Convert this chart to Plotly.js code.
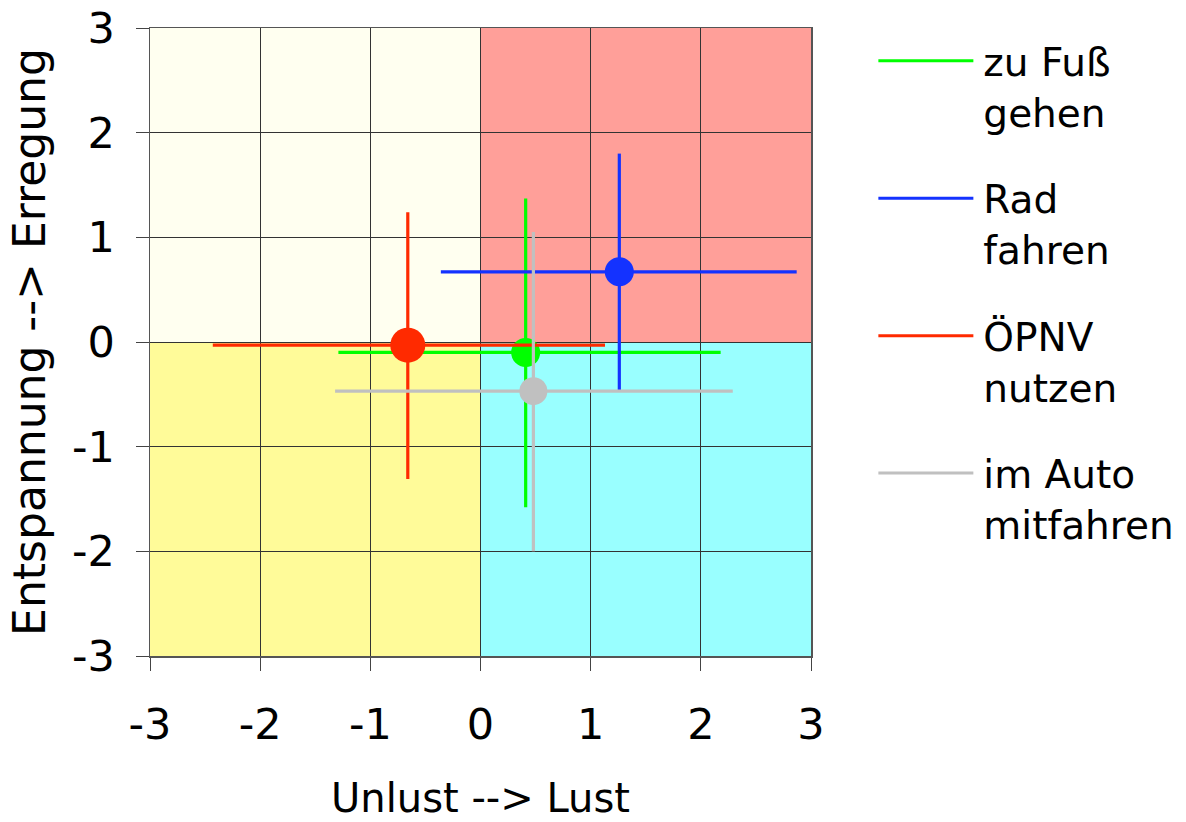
<!DOCTYPE html>
<html>
<head>
<meta charset="utf-8">
<script src="https://cdn.plot.ly/plotly-3.0.1.min.js"></script>
<style>html,body{margin:0;padding:0;background:#fff;}#chart{width:1186px;height:822px;}</style>
</head>
<body>
<div id="chart"></div>
<script>
// Data
var categories = ['zu Fuß<br>gehen', 'Rad<br>fahren', 'ÖPNV<br>nutzen', 'im Auto<br>mitfahren'];
var colors = ['#00FF00', '#1432FF', '#FF2A00', '#C0C0C0'];
var xMean = [0.41, 1.26, -0.66, 0.48];
var yMean = [-0.10, 0.67, -0.03, -0.47];
var xLow  = [-1.29, -0.36, -2.43, -1.32];
var xHigh = [2.18, 2.87, 1.13, 2.29];
var yLow  = [-1.58, -0.46, -1.31, -2.00];
var yHigh = [1.37, 1.80, 1.24, 1.05];
var markerSizes = [29, 29, 35, 28];
var tickVals = [-3, -2, -1, 0, 1, 2, 3];
var tickText = ['-3', '-2', '-1', '0', '1', '2', '3'];

var FONT = 'DejaVu Sans, Verdana, sans-serif';
var traces = [];
for (var i = 0; i < categories.length; i++) {
  traces.push({
    type: 'scatter', mode: 'markers',
    x: [xMean[i]], y: [yMean[i]],
    legendgroup: 'g' + i, showlegend: false,
    marker: {color: colors[i], size: markerSizes[i], line: {width: 0}},
    error_x: {type: 'data', symmetric: false, array: [xHigh[i] - xMean[i]], arrayminus: [xMean[i] - xLow[i]], color: colors[i], thickness: 3.2, width: 0},
    error_y: {type: 'data', symmetric: false, array: [yHigh[i] - yMean[i]], arrayminus: [yMean[i] - yLow[i]], color: colors[i], thickness: 3.2, width: 0},
    hoverinfo: 'x+y'
  });
  traces.push({
    type: 'scatter', mode: 'lines',
    x: [null], y: [null],
    name: categories[i], legendgroup: 'g' + i, showlegend: true,
    line: {color: colors[i], width: 3}
  });
}

var quads = [
  {x0: -3, x1: 0, y0: 0, y1: 3, c: '#FFFFF0'},
  {x0: 0, x1: 3, y0: 0, y1: 3, c: '#FF9F99'},
  {x0: -3, x1: 0, y0: -3, y1: 0, c: '#FFFB99'},
  {x0: 0, x1: 3, y0: -3, y1: 0, c: '#99FFFF'}
];
var shapes = quads.map(function (q) {
  return {type: 'rect', xref: 'x', yref: 'y', x0: q.x0, x1: q.x1, y0: q.y0, y1: q.y1,
    fillcolor: q.c, line: {width: 0}, layer: 'below'};
});

var axisCommon = {
  range: [-3, 3], tickmode: 'array', tickvals: tickVals, ticktext: tickText,
  ticks: 'outside', ticklen: 13, tickwidth: 1, tickcolor: '#444',
  showgrid: true, gridcolor: '#333', gridwidth: 1, zeroline: false,
  showline: true, linecolor: '#555', linewidth: 1.5, mirror: true,
  tickfont: {family: FONT, size: 43, color: '#000'},
  ticklabeloverflow: 'allow',
  automargin: false,
  fixedrange: true
};

var layout = {
  width: 1186, height: 822,
  margin: {l: 150, r: 375, t: 28, b: 166, pad: 0, autoexpand: false},
  paper_bgcolor: '#FFFFFF', plot_bgcolor: '#FFFFFF',
  font: {family: FONT, size: 40, color: '#000'},
  xaxis: Object.assign({}, axisCommon, {
    title: {text: 'Unlust --> Lust', font: {family: FONT, size: 40, color: '#000'}, standoff: 36},
    ticklabelstandoff: 17
  }),
  yaxis: Object.assign({}, axisCommon, {
    automargin: true,
    title: {text: 'Entspannung --> Erregung', font: {family: FONT, size: 44, color: '#000'}, standoff: 12},
    ticklabelstandoff: 12
  }),
  shapes: shapes,
  showlegend: true,
  legend: {
    xref: 'container', yref: 'container',
    x: 0.7364, y: 0.9647, xanchor: 'left', yanchor: 'top',
    maxheight: 790,
    font: {family: FONT, size: 39, color: '#000'},
    valign: 'top', itemwidth: 100, tracegroupgap: 33,
    bgcolor: 'rgba(0,0,0,0)', borderwidth: 0
  }
};

Plotly.newPlot('chart', traces, layout, {displayModeBar: false, staticPlot: true}).then(function (gd) {
  var paths = gd.querySelectorAll('.legend .legendlines path');
  paths.forEach(function (p) { p.setAttribute('d', 'M5,0h95'); });
});
</script>
</body>
</html>
